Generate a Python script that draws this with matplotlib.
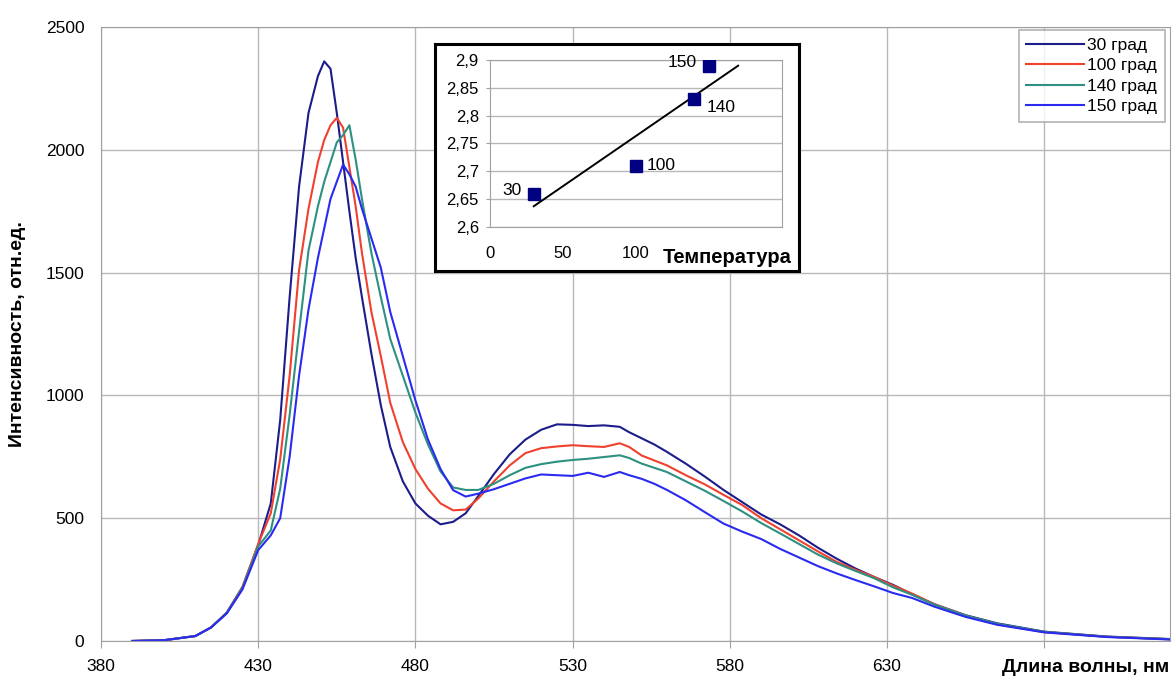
import matplotlib
matplotlib.use('Agg')
import matplotlib.pyplot as plt
import numpy as np

plt.rcParams['font.family'] = ['Liberation Sans', 'DejaVu Sans']

# Спектри: довжина хвилі (нм) та інтенсивність для кожної температури
wl = [390, 400, 410, 415, 420, 425, 430, 434, 437, 440, 443, 446, 449, 451,
      453, 455, 457, 459, 461, 463, 466, 469, 472, 476, 480, 484, 488, 492,
      496, 500, 505, 510, 515, 520, 525, 530, 535, 540, 545, 548, 552, 556,
      560, 566, 572, 578, 584, 590, 596, 602, 608, 614, 620, 626, 632, 638,
      645, 655, 665, 680, 700, 720]

i30 = [0, 3, 20, 55, 115, 220, 390, 560, 900, 1400, 1850, 2150, 2300, 2360,
       2330, 2150, 1950, 1750, 1560, 1400, 1170, 960, 790, 650, 560, 510, 475, 485,
       520, 590, 680, 760, 820, 860, 882, 880, 875, 878, 872, 850, 825, 800,
       770, 722, 670, 615, 565, 515, 475, 430, 380, 335, 295, 260, 228, 190,
       150, 105, 72, 38, 18, 8]

i100 = [0, 3, 20, 55, 115, 218, 395, 520, 740, 1080, 1510, 1760, 1950, 2040,
        2100, 2130, 2090, 1930, 1770, 1580, 1340, 1160, 970, 810, 700, 620, 560, 532,
        535, 580, 650, 715, 765, 785, 792, 797, 793, 790, 805, 790, 755, 735,
        715, 675, 638, 595, 553, 500, 455, 410, 365, 322, 290, 260, 225, 193,
        150, 103, 68, 36, 17, 7]

i140 = [0, 3, 20, 55, 115, 215, 385, 450, 620, 920, 1260, 1590, 1770, 1870,
        1950, 2030, 2060, 2100, 1960, 1800, 1580, 1400, 1230, 1080, 930, 800, 690, 625,
        615, 615, 640, 675, 705, 720, 730, 737, 742, 749, 756, 745, 722, 705,
        688, 650, 612, 570, 527, 480, 438, 395, 352, 316, 285, 255, 218, 188,
        148, 103, 70, 37, 17, 7]

i150 = [0, 3, 20, 55, 112, 210, 370, 430, 500, 750, 1080, 1350, 1560, 1680,
        1800, 1870, 1940, 1900, 1850, 1760, 1640, 1520, 1340, 1160, 980, 820, 700, 614,
        588, 600, 618, 640, 662, 678, 675, 672, 685, 668, 688, 675, 660, 640,
        615, 573, 525, 478, 445, 415, 375, 340, 305, 275, 248, 222, 195, 175,
        140, 98, 66, 35, 16, 6]

labels = ['30 град', '100 град', '140 град', '150 град']
colors = ['#1c1c8a', '#f0402e', '#2e9080', '#2a2af0']

# Дані для вставки: температура та положення піку
temps = [30, 100, 140, 150]
energy = [2.66, 2.71, 2.83, 2.89]
inset_yticks = [2.6, 2.65, 2.7, 2.75, 2.8, 2.85, 2.9]
inset_xticks = [0, 50, 100, 150, 200]

fig = plt.figure(figsize=(11.73, 6.8), dpi=100)
ax = fig.add_axes([0.0861, 0.0574, 0.9113, 0.9029])

for y, lab, c in zip([i30, i100, i140, i150], labels, colors):
    ax.plot(wl, y, color=c, lw=1.5, label=lab)

ax.set_xlim(380, 720)
ax.set_ylim(0, 2500)
ax.set_xticks(range(380, 681, 50))
ax.set_xticklabels([str(v) if v < 680 else '' for v in range(380, 681, 50)])
ax.set_yticks(range(0, 2501, 500))
ax.grid(True, color='#b8b8b8', lw=1)
for s in ax.spines.values():
    s.set_color('#a0a0a0')
ax.tick_params(axis='x', length=5, color='#a0a0a0', pad=8, labelsize=12.5)
ax.tick_params(axis='y', length=0, pad=12, labelsize=12.5)

leg = ax.legend(loc='upper right', bbox_to_anchor=(0.993, 0.956),
                bbox_transform=fig.transFigure, fontsize=12.5,
                handlelength=3.3, handletextpad=0.2, labelspacing=0.3,
                fancybox=False, edgecolor='#a0a0a0', borderpad=0.45,
                borderaxespad=0)
leg.get_frame().set_linewidth(1.2)

fig.text(18 / 1173, 0.509, 'Интенсивность, отн.ед.', rotation=90,
         ha='center', va='center', fontsize=14, fontweight='bold')
fig.text(0.997, 0.019, 'Длина волны, нм', ha='right', va='center',
         fontsize=14, fontweight='bold')

# Рамка вставки
box = fig.add_axes([0.3708, 0.6015, 0.3103, 0.3338])
box.set_xticks([])
box.set_yticks([])
for s in box.spines.values():
    s.set_color('black')
    s.set_linewidth(2.2)

axin = fig.add_axes([0.4177, 0.6662, 0.2489, 0.2456])
axin.plot(temps, energy, 's', color='#000080', ms=8, zorder=3)
k, b = np.polyfit(temps, energy, 1)
tx = np.array([min(temps), 170])
axin.plot(tx, k * tx + b, color='black', lw=1.4, zorder=2)

axin.set_xlim(0, 200)
axin.set_ylim(2.6, 2.9)
axin.set_yticks(inset_yticks)
axin.set_yticklabels([str(v).replace('.', ',') for v in inset_yticks])
axin.set_xticks(inset_xticks)
axin.set_xticklabels([str(v) if v <= 100 else '' for v in inset_xticks])
axin.grid(True, axis='y', color='#b8b8b8', lw=1)
for s in axin.spines.values():
    s.set_color('#a0a0a0')
axin.tick_params(axis='x', length=0, pad=14, labelsize=12)
axin.tick_params(axis='y', length=3, color='#a0a0a0', pad=5, labelsize=12)
axin.text(0.592, -0.18, 'Температура', transform=axin.transAxes,
          ha='left', va='center', fontsize=14.5, fontweight='bold')

offsets = {30: (-9, 2, 'right'), 100: (8, 0, 'left'),
           140: (8.5, -6.5, 'left'), 150: (-9, 2, 'right')}
for t, e in zip(temps, energy):
    dx, dy, ha = offsets[t]
    axin.annotate(str(t), (t, e), xytext=(dx, dy), textcoords='offset points',
                  ha=ha, va='center', fontsize=12.5)

fig.savefig('out.png', dpi=100)
